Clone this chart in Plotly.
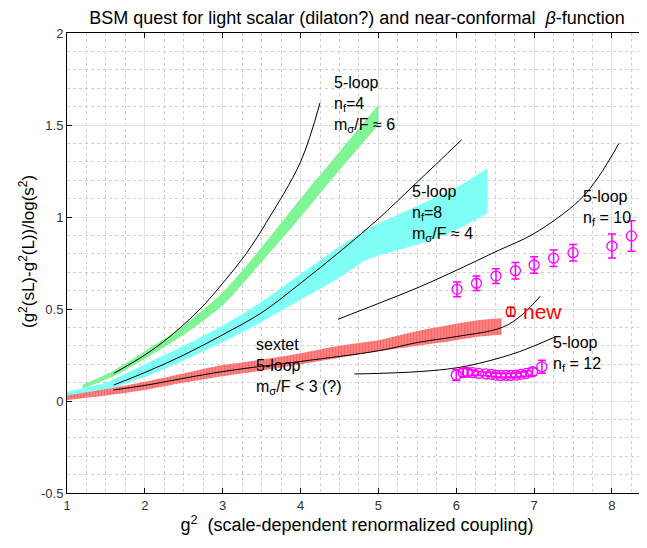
import plotly.graph_objects as go

# ---------------- data ----------------
# green band (nf=4, m_sigma/F ~ 6)
green_x = [1.2, 1.6, 2.0, 2.5, 3.0, 3.5, 4.0, 4.5, 5.0]
green_lo = [0.068, 0.135, 0.23, 0.36, 0.52, 0.755, 1.00, 1.255, 1.50]
green_hi = [0.088, 0.165, 0.27, 0.41, 0.59, 0.835, 1.10, 1.355, 1.61]

# cyan band (nf=8, m_sigma/F ~ 4)
cyan_x = [1.0, 1.5, 2.0, 2.5, 3.0, 3.5, 4.0, 4.5, 4.84, 5.0, 5.5, 6.0, 6.4]
cyan_lo = [0.02, 0.06, 0.13, 0.22, 0.32, 0.43, 0.55, 0.67, 0.766, 0.79, 0.85, 0.93, 1.02]
cyan_hi = [0.05, 0.10, 0.20, 0.30, 0.41, 0.54, 0.69, 0.84, 0.93, 0.965, 1.06, 1.16, 1.265]

# red band (sextet)
red_x = [1.0, 1.5, 2.0, 2.5, 3.0, 3.5, 4.0, 4.5, 5.0, 5.5, 6.0, 6.3, 6.58]
red_lo = [0.005, 0.03, 0.06, 0.10, 0.135, 0.165, 0.20, 0.235, 0.27, 0.30, 0.33, 0.35, 0.36]
red_hi = [0.03, 0.065, 0.105, 0.15, 0.195, 0.225, 0.26, 0.30, 0.33, 0.38, 0.42, 0.44, 0.45]

# 5-loop curves
nf4_x = [1.6, 2.0, 2.32, 2.71, 3.0, 3.3, 3.56, 4.0, 4.25]
nf4_y = [0.15, 0.25, 0.35, 0.50, 0.64, 0.80, 0.97, 1.30, 1.62]

nf8_x = [1.6, 2.0, 2.5, 3.0, 3.5, 4.0, 4.5, 5.0, 5.5, 6.07]
nf8_y = [0.087, 0.155, 0.25, 0.36, 0.48, 0.64, 0.81, 0.99, 1.19, 1.42]

nf10_x = [4.48, 5.0, 5.53, 6.0, 6.55, 7.0, 7.58, 7.83, 8.09]
nf10_y = [0.444, 0.53, 0.62, 0.71, 0.82, 0.91, 1.09, 1.22, 1.40]

sext_x = [1.6, 2.0, 3.0, 4.0, 5.0, 5.53, 6.0, 6.59, 6.85, 7.08]
sext_y = [0.06, 0.085, 0.16, 0.215, 0.273, 0.32, 0.35, 0.40, 0.47, 0.57]

nf12_x = [4.69, 5.0, 5.53, 6.0, 6.38, 6.81, 7.28]
nf12_y = [0.147, 0.15, 0.16, 0.18, 0.214, 0.268, 0.35]

# lattice data points
pts10_x = [6.01, 6.26, 6.51, 6.76, 7.0, 7.25, 7.5, 8.0, 8.25]
pts10_y = [0.607, 0.64, 0.679, 0.708, 0.739, 0.776, 0.806, 0.842, 0.897]
pts10_e = [0.04, 0.04, 0.04, 0.045, 0.045, 0.045, 0.045, 0.065, 0.083]

pts12_x = [6.0, 6.09, 6.14, 6.21, 6.29, 6.38, 6.45, 6.51, 6.57, 6.64, 6.70, 6.77, 6.83, 6.90, 6.98, 7.1]
pts12_y = [0.141, 0.154, 0.156, 0.154, 0.150, 0.147, 0.145, 0.141, 0.139, 0.139, 0.139, 0.141, 0.145, 0.150, 0.159, 0.186]
pts12_e = [0.03, 0.022, 0.02, 0.015, 0.012, 0.01, 0.01, 0.01, 0.01, 0.01, 0.01, 0.01, 0.012, 0.015, 0.02, 0.035]

new_x = [6.70]
new_y = [0.485]
new_e = [0.025]

x_ticks = [1, 2, 3, 4, 5, 6, 7, 8]
y_ticks = [-0.5, 0, 0.5, 1, 1.5, 2]
y_tick_labels = ["-0.5", "0", "0.5", "1", "1.5", "2"]

FONT = "Liberation Sans, Arial, Helvetica, sans-serif"

fig = go.Figure()


def band(xs, lo, hi, color, **kw):
    fig.add_trace(go.Scatter(x=xs, y=lo, mode="lines",
                             line=dict(width=0, shape="spline", smoothing=0.7),
                             hoverinfo="skip", showlegend=False))
    fig.add_trace(go.Scatter(x=xs, y=hi, mode="lines", fill="tonexty",
                             line=dict(width=0, shape="spline", smoothing=0.7),
                             fillcolor=color, hoverinfo="skip", showlegend=False, **kw))


band(green_x, green_lo, green_hi, "rgb(128,245,150)")
band(cyan_x, cyan_lo, cyan_hi, "rgb(128,255,246)")
band(red_x, red_lo, red_hi, "rgb(255,120,120)",
     fillpattern=dict(shape="|", fgcolor="rgb(242,80,80)", bgcolor="rgb(255,128,128)",
                      size=3, solidity=0.35))

for xs, ys in [(nf4_x, nf4_y), (nf8_x, nf8_y), (nf10_x, nf10_y),
               (sext_x, sext_y), (nf12_x, nf12_y)]:
    fig.add_trace(go.Scatter(x=xs, y=ys, mode="lines",
                             line=dict(color="black", width=1, shape="spline", smoothing=1.0),
                             showlegend=False, hoverinfo="skip"))

for xs, ys, es in [(pts10_x, pts10_y, pts10_e), (pts12_x, pts12_y, pts12_e)]:
    fig.add_trace(go.Scatter(
        x=xs, y=ys, mode="markers",
        marker=dict(symbol="circle-open", size=10, color="#ff00ff", line=dict(width=1.3)),
        error_y=dict(type="data", array=es, color="#ff00ff", thickness=1.5, width=4),
        showlegend=False))

fig.add_trace(go.Scatter(
    x=new_x, y=new_y, mode="markers",
    marker=dict(symbol="circle-open", size=9, color="#ff0000", line=dict(width=1.5)),
    error_y=dict(type="data", array=new_e, color="#ff0000", thickness=1.5, width=4),
    showlegend=False))

ann_font = dict(family=FONT, size=16, color="black")
labels = [
    (4.41, 1.61, "5-loop<br>n<sub>f</sub>=4<br>m<sub>σ</sub>/F ≈ 6"),
    (5.40, 1.02, "5-loop<br>n<sub>f</sub>=8<br>m<sub>σ</sub>/F ≈ 4"),
    (7.60, 1.05, "5-loop<br>n<sub>f</sub> = 10"),
    (3.40, 0.19, "sextet<br>5-loop<br>m<sub>σ</sub>/F < 3 (?)"),
    (7.22, 0.255, "5-loop<br>n<sub>f</sub> = 12"),
]
for x, y, t in labels:
    fig.add_annotation(x=x, y=y, text=t, showarrow=False, xanchor="left", yanchor="middle",
                       align="left", font=ann_font)
fig.add_annotation(x=6.83, y=0.487, text="new", showarrow=False, xanchor="left",
                   yanchor="middle", font=dict(family=FONT, size=21, color="#ff0000"))

# y-axis title as rotated annotation
fig.add_annotation(xref="paper", yref="paper", x=0, y=(485 - 244) / 460, xshift=-40,
                   text="(g<sup>2</sup>(sL)-g<sup>2</sup>(L))/log(s<sup>2</sup>)",
                   textangle=-90, showarrow=False, xanchor="center", yanchor="middle",
                   font=dict(family=FONT, size=17, color="black"))

fig.update_layout(
    width=647, height=548,
    margin=dict(l=59, r=8, t=25, b=63),
    paper_bgcolor="white", plot_bgcolor="white",
    font=dict(family=FONT, color="black"),
    title=dict(text="BSM quest for light scalar (dilaton?) and near-conformal  <i>β</i>-function",
               x=0.5, xref="paper", xanchor="center",
               y=1 - 10 / 548, yref="container", yanchor="middle",
               font=dict(family=FONT, size=18, color="black")),
    xaxis=dict(range=[1, 8.45], tickvals=x_ticks, ticks="inside", ticklen=5,
               tickcolor="black", showline=True, linecolor="black", linewidth=1,
               mirror="ticks", showgrid=True, gridcolor="#e3e3e3", gridwidth=1,
               zeroline=False, tickfont=dict(size=13, color="#333"), automargin=False,
               minor=dict(dtick=0.25, showgrid=True, griddash="dot", gridcolor="#d0d0d0",
                          gridwidth=1, ticks=""),
               title=dict(text="g<sup>2</sup>  (scale-dependent renormalized coupling)",
                          font=dict(size=18), standoff=4)),
    yaxis=dict(range=[-0.5, 2], tickvals=y_ticks, ticktext=y_tick_labels, ticks="inside",
               ticklen=5, tickcolor="black", showline=True, linecolor="black", linewidth=1,
               mirror="ticks", showgrid=True, gridcolor="#e3e3e3", gridwidth=1,
               zeroline=False, tickfont=dict(size=13, color="#333"), automargin=False,
               minor=dict(dtick=0.1, showgrid=True, griddash="dot", gridcolor="#d0d0d0",
                          gridwidth=1, ticks="")),
)

fig.write_html("out.html")
